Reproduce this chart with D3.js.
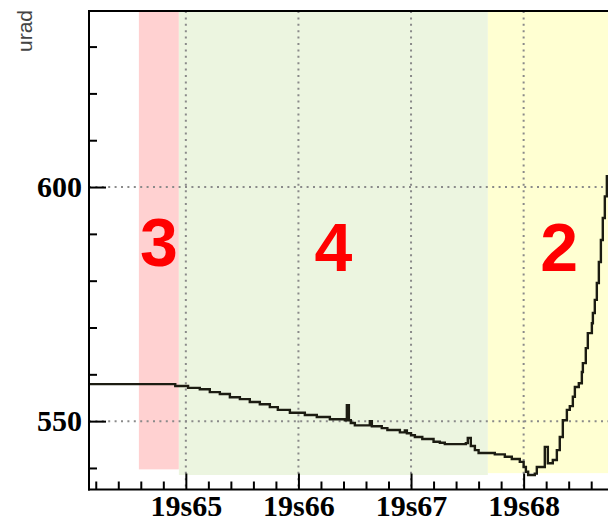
<!DOCTYPE html>
<html>
<head>
<meta charset="utf-8">
<script src="https://cdn.jsdelivr.net/npm/d3@7"></script>
<style>
  html, body { margin: 0; padding: 0; background: #ffffff; }
  svg { display: block; }
</style>
</head>
<body>
<svg id="chart" width="608" height="522"></svg>
<script>
// Measured angle (urad) against run time
const timeValues = [
  64.139, 64.906, 65.020, 65.124, 65.213, 65.302, 65.391, 65.480, 65.568, 65.657,
  65.746, 65.817, 65.924, 66.057, 66.163, 66.279, 66.412, 66.430, 66.448, 66.465,
  66.501, 66.634, 66.652, 66.740, 66.790, 66.901, 66.945, 66.963, 67.000, 67.034,
  67.100, 67.200, 67.256, 67.300, 67.487, 67.504, 67.531, 67.567, 67.600, 67.744,
  67.833, 67.895, 67.966, 68.000, 68.020, 68.040, 68.099, 68.117, 68.188, 68.215,
  68.259, 68.295, 68.321, 68.348, 68.384, 68.410, 68.437, 68.455, 68.490, 68.517,
  68.526, 68.552, 68.570, 68.606, 68.615, 68.632, 68.650, 68.668, 68.686, 68.703,
  68.721, 68.739, 68.760, 68.800
];
const angleValues = [
  557.9, 557.5, 557.1, 556.8, 556.2, 555.8, 555.1, 554.7, 554.1, 553.6,
  553.0, 552.4, 551.8, 551.3, 550.9, 550.4, 550.2, 553.4, 550.2, 549.6,
  549.1, 550.0, 548.9, 548.5, 548.1, 547.6, 548.0, 547.4, 547.0, 546.6,
  546.2, 545.6, 545.4, 545.1, 545.3, 546.4, 544.7, 543.8, 543.2, 542.9,
  542.4, 541.9, 541.3, 540.2, 539.2, 538.5, 538.8, 540.2, 544.5, 541.0,
  541.7, 543.8, 546.6, 550.2, 552.4, 553.2, 555.2, 557.3, 558.1, 560.5,
  562.4, 565.6, 568.8, 570.9, 573.1, 575.9, 579.5, 584.0, 588.7, 593.4,
  598.0, 602.3, 605.0, 608.0
];

// Operating phases
const phaseNames = ["3", "4", "2"];
const phaseStart = [64.583, 64.938, 67.682];
const phaseEnd   = [64.938, 67.682, 68.95];
const phaseFloor = [539.7, 538.5, 538.9];

// Axis ticks
const xMajorTicks = [65, 66, 67, 68];
const yMajorTicks = [550, 600];
const yUnit = "urad";

const phaseFill = ["#ffd1d1", "#ecf5e0", "#ffffd2"];
const phaseLabelLevel = [583.1, 582.0, 582.0];

const svg = d3.select("#chart");
const plotLeft = 89, plotTop = 11, plotBottom = 489.5;

const x = d3.scaleLinear().domain([64.14, 68.95]).range([plotLeft, plotLeft + 4.81 * 112.6]);
const y = d3.scaleLinear().domain([535.4, 637.6]).range([plotBottom, plotTop]);

// Phase bands
svg.append("g").selectAll("rect")
  .data(phaseNames)
  .join("rect")
  .attr("x", (d, i) => x(phaseStart[i]))
  .attr("width", (d, i) => x(phaseEnd[i]) - x(phaseStart[i]))
  .attr("y", plotTop)
  .attr("height", (d, i) => y(phaseFloor[i]) - plotTop)
  .attr("fill", (d, i) => phaseFill[i]);

// Dotted grid
const grid = svg.append("g")
  .attr("stroke", "#8a8a8a")
  .attr("stroke-width", 2)
  .attr("stroke-dasharray", "2,4.4");
grid.selectAll("line.v").data(xMajorTicks).join("line").attr("class", "v")
  .attr("x1", d => x(d)).attr("x2", d => x(d))
  .attr("y1", plotTop).attr("y2", plotBottom);
grid.selectAll("line.h").data(yMajorTicks).join("line").attr("class", "h")
  .attr("x1", plotLeft).attr("x2", 608)
  .attr("y1", d => y(d)).attr("y2", d => y(d));

// Angle trace
const trace = d3.line()
  .x(d => x(d[0]))
  .y(d => y(d[1]))
  .curve(d3.curveStepAfter);
svg.append("path")
  .datum(timeValues.map((t, i) => [t, angleValues[i]]))
  .attr("d", trace)
  .attr("fill", "none")
  .attr("stroke", "#1c1c12")
  .attr("stroke-width", 2.4);

// Phase labels
svg.append("g").selectAll("text")
  .data(phaseNames)
  .join("text")
  .attr("x", (d, i) => (x(phaseStart[i]) + x(phaseEnd[i])) / 2)
  .attr("y", (d, i) => y(phaseLabelLevel[i]))
  .attr("text-anchor", "middle")
  .attr("font-family", "'Liberation Sans', Arial, sans-serif")
  .attr("font-weight", "bold")
  .attr("font-size", 68)
  .attr("fill", "#ff0000")
  .text(d => d);

// Axes
const fontTicks = "'Liberation Serif', 'Times New Roman', serif";

const xMinor = d3.range(64.2, 68.95, 0.2).filter(v => !xMajorTicks.some(m => Math.abs(m - v) < 1e-6));
const yMinor = d3.range(540, 640, 10).filter(v => !yMajorTicks.includes(v));

svg.append("g").attr("transform", `translate(0,${plotBottom})`)
  .call(d3.axisBottom(x).tickValues(xMajorTicks).tickSize(-16).tickPadding(5)
    .tickFormat(d => "19s" + d));
svg.append("g").attr("transform", `translate(0,${plotBottom})`)
  .call(d3.axisBottom(x).tickValues(xMinor).tickSize(-8).tickFormat(""));

svg.append("g").attr("transform", `translate(${plotLeft},0)`)
  .call(d3.axisLeft(y).tickValues(yMajorTicks).tickSize(-17).tickPadding(7));
svg.append("g").attr("transform", `translate(${plotLeft},0)`)
  .call(d3.axisLeft(y).tickValues(yMinor).tickSize(-8).tickFormat(""));

svg.selectAll(".domain").remove();
svg.selectAll(".tick line").attr("stroke", "#000").attr("stroke-width", 2);
svg.selectAll(".tick text")
  .attr("font-family", fontTicks)
  .attr("font-weight", "bold")
  .attr("font-size", 30)
  .attr("fill", "#000");

// Frame
const frame = svg.append("g").attr("stroke", "#000").attr("stroke-width", 2).attr("fill", "none");
frame.append("line").attr("x1", plotLeft).attr("x2", plotLeft).attr("y1", plotTop).attr("y2", plotBottom + 1);
frame.append("line").attr("x1", plotLeft - 1).attr("x2", 608).attr("y1", plotBottom).attr("y2", plotBottom);
frame.append("line").attr("x1", plotLeft - 1).attr("x2", 608).attr("y1", plotTop).attr("y2", plotTop);

// Unit title
svg.append("text")
  .attr("transform", `translate(32,10) rotate(-90)`)
  .attr("text-anchor", "end")
  .attr("font-family", "'Liberation Sans', Arial, sans-serif")
  .attr("font-size", 21)
  .attr("fill", "#444")
  .text(yUnit);
</script>
</body>
</html>
